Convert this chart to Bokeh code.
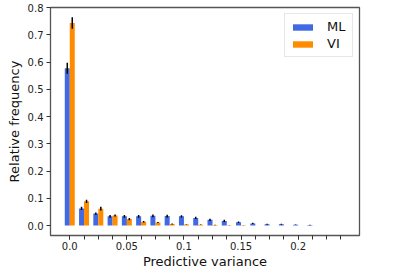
from bokeh.plotting import figure
from bokeh.models import FixedTicker, Range1d, ColumnDataSource
from bokeh.transform import dodge
from bokeh.embed import file_html
from bokeh.resources import INLINE

bins = list(range(20))
ml = [0.577, 0.063, 0.044, 0.034, 0.034, 0.034, 0.036, 0.035, 0.034, 0.028,
      0.021, 0.017, 0.012, 0.008, 0.005, 0.005, 0.003, 0.002, 0.0, 0.0]
ml_err = [0.020, 0.006, 0.004, 0.005, 0.005, 0.005, 0.005, 0.005, 0.004, 0.004,
          0.004, 0.004, 0.003, 0.002, 0.002, 0.002, 0.001, 0.001, 0.0, 0.0]
vi = [0.743, 0.089, 0.062, 0.037, 0.024, 0.014, 0.011, 0.006, 0.004, 0.003,
      0.002, 0.001, 0.001, 0.0005, 0.0, 0.0, 0.0, 0.0, 0.0, 0.0]
vi_err = [0.021, 0.006, 0.007, 0.004, 0.004, 0.003, 0.002, 0.002, 0.001, 0.001,
          0.001, 0.0005, 0.0005, 0.0, 0.0, 0.0, 0.0, 0.0, 0.0, 0.0]
x_tick_pos = [0, 4, 8, 12, 16]
x_tick_labels = ["0.0", "0.05", "0.1", "0.15", "0.2"]
y_ticks = [0.0, 0.1, 0.2, 0.3, 0.4, 0.5, 0.6, 0.7, 0.8]
y_tick_labels = ["0.0", "0.1", "0.2", "0.3", "0.4", "0.5", "0.6", "0.7", "0.8"]
series_names = ["ML", "VI"]
series_colors = ["#4169E1", "#FF8C00"]

src = ColumnDataSource(dict(
    bin=bins, ml=ml, vi=vi,
    ml_lo=[v - e for v, e in zip(ml, ml_err)], ml_hi=[v + e for v, e in zip(ml, ml_err)],
    vi_lo=[v - e for v, e in zip(vi, vi_err)], vi_hi=[v + e for v, e in zip(vi, vi_err)],
))

FONT = "DejaVu Sans"
p = figure(width=383, height=271, output_backend="svg", toolbar_location=None,
           x_range=Range1d(-1.35, 20.3), y_range=Range1d(-0.0364, 0.8),
           min_border_left=50, min_border_top=7, min_border_right=24, min_border_bottom=34)
p.background_fill_color = "white"
p.border_fill_color = "white"
p.outline_line_color = "#555555"
p.outline_line_width = 1.3
p.xgrid.visible = False
p.ygrid.visible = False

w = 0.35
p.vbar(x=dodge("bin", -w / 2, range=p.x_range), top="ml", bottom=0, width=w, source=src,
       fill_color=series_colors[0], line_color=None, legend_label=series_names[0])
p.vbar(x=dodge("bin", w / 2, range=p.x_range), top="vi", bottom=0, width=w, source=src,
       fill_color=series_colors[1], line_color=None, legend_label=series_names[1])
p.segment(x0=dodge("bin", -w / 2, range=p.x_range), x1=dodge("bin", -w / 2, range=p.x_range),
          y0="ml_lo", y1="ml_hi", source=src, line_color="black", line_width=1.5)
p.segment(x0=dodge("bin", w / 2, range=p.x_range), x1=dodge("bin", w / 2, range=p.x_range),
          y0="vi_lo", y1="vi_hi", source=src, line_color="black", line_width=1.5)

for ax in (p.xaxis[0], p.yaxis[0]):
    ax.axis_line_color = None
    ax.major_tick_line_color = "#333333"
    ax.minor_tick_line_color = "#333333"
    ax.major_tick_out = 4
    ax.major_tick_in = 0
    ax.minor_tick_out = 4
    ax.minor_tick_in = 0
    ax.major_label_text_font = FONT
    ax.major_label_text_font_size = "10px"
    ax.major_label_text_color = "#222222"
    ax.axis_label_text_font = FONT
    ax.axis_label_text_font_size = "13px"
    ax.axis_label_text_font_style = "normal"
    ax.axis_label_text_color = "#111111"

p.xaxis.major_label_standoff = 2
p.xaxis.axis_label_standoff = 1
p.yaxis.major_label_standoff = 3
p.yaxis.axis_label_standoff = 3

p.xaxis.ticker = FixedTicker(ticks=x_tick_pos, minor_ticks=bins)
p.xaxis.major_label_overrides = {t: l for t, l in zip(x_tick_pos, x_tick_labels)}
p.xaxis.axis_label = "Predictive variance"
p.yaxis.ticker = FixedTicker(ticks=y_ticks, minor_ticks=[])
p.yaxis.major_label_overrides = {t: l for t, l in zip(y_ticks, y_tick_labels)}
p.yaxis.axis_label = "Relative frequency"

lg = p.legend[0]
lg.location = "top_right"
lg.margin = 6
lg.padding = 5
lg.spacing = 2
lg.glyph_width = 25
lg.glyph_height = 8
lg.label_height = 15
lg.label_standoff = 12
lg.label_text_font = FONT
lg.label_text_font_size = "13px"
lg.label_text_color = "#111111"
lg.border_line_color = "#d0d0d0"
lg.border_line_width = 1
lg.background_fill_alpha = 0.8

open("out.html", "w").write(file_html(p, INLINE))
